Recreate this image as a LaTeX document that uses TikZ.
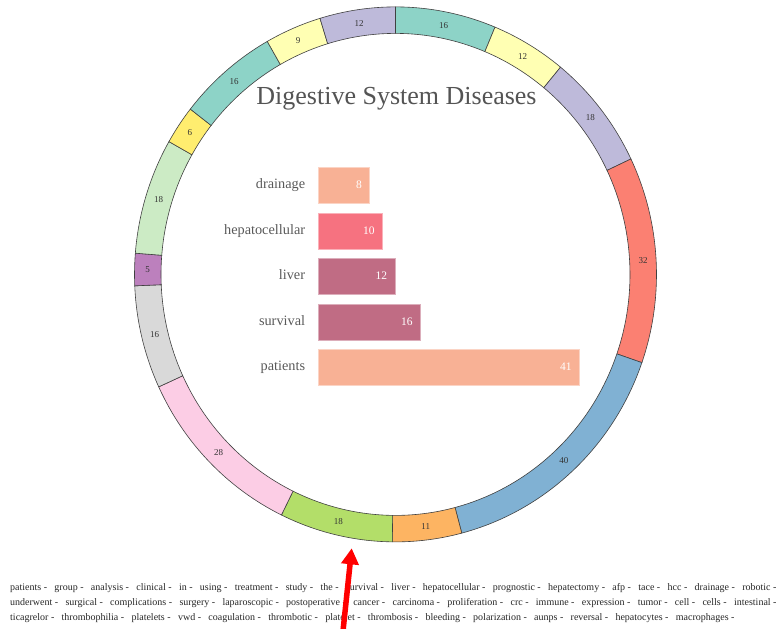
\documentclass[tikz,border=0pt]{standalone}
\usepackage{fontspec}
\setmainfont{Liberation Serif}
\usepackage{xcolor}
\usetikzlibrary{arrows.meta,positioning}

% ring colours
\definecolor{segTeal}{HTML}{8DD3C7}
\definecolor{segCream}{HTML}{FFFFB3}
\definecolor{segLav}{HTML}{BEBADA}
\definecolor{segSalmon}{HTML}{FB8072}
\definecolor{segBlue}{HTML}{80B1D3}
\definecolor{segOrange}{HTML}{FDB462}
\definecolor{segGreen}{HTML}{B3DE69}
\definecolor{segPink}{HTML}{FCCDE5}
\definecolor{segGrey}{HTML}{D9D9D9}
\definecolor{segPurple}{HTML}{BC80BD}
\definecolor{segMint}{HTML}{CCEBC5}
\definecolor{segYellow}{HTML}{FFED6F}
% bar colours
\definecolor{barPeach}{HTML}{F8B195}
\definecolor{barRose}{HTML}{F67280}
\definecolor{barPlum}{HTML}{C06C84}

\newcommand{\wsep}{\ -\hspace{7.35pt}}

\begin{document}
\begin{tikzpicture}[x=1pt, y=1pt, >=Stealth,
    seg/.style={draw=black!75, line width=0.6pt},
    seglabel/.style={font=\fontsize{9}{10}\selectfont, text=black!80, inner sep=0pt},
    barbox/.style={fill=#1, draw=#1!55!white, line width=0.8pt, minimum height=36pt, inner sep=0pt, anchor=west},
    barval/.style={font=\fontsize{11.5}{13}\selectfont, text=white, anchor=east, inner sep=0pt, text height=8pt, text depth=1pt},
    barname/.style={font=\fontsize{14.3}{16}\selectfont, text=black!65, inner sep=0pt, text height=10pt, text depth=3pt},
    wordline/.style={font=\fontsize{10}{12}\selectfont, text=black!85, anchor=base west, inner sep=0pt}]
    \useasboundingbox (0,0) rectangle (779,629);

    % Ring
    \coordinate (ring) at (395.5,354.6);
    \begin{scope}[shift={(ring)}]
    \foreach \a/\b/\v/\c in {0/16/16/segTeal, 16/28/12/segCream, 28/46/18/segLav, 46/78/32/segSalmon,
        78/118/40/segBlue, 118/129/11/segOrange, 129/147/18/segGreen, 147/175/28/segPink,
        175/191/16/segGrey, 191/196/5/segPurple, 196/214/18/segMint, 214/220/6/segYellow,
        220/236/16/segTeal, 236/245/9/segCream, 245/257/12/segLav} {
        \pgfmathsetmacro\sa{90-\a/257*360}
        \pgfmathsetmacro\ea{90-\b/257*360}
        \pgfmathsetmacro\ma{(\sa+\ea)/2}
        \draw[seg, fill=\c] (\sa:261pt and 267.5pt) arc[start angle=\sa, end angle=\ea, x radius=261pt, y radius=267.5pt]
            -- (\ea:234.5pt and 241pt) arc[start angle=\ea, end angle=\sa, x radius=234.5pt, y radius=241pt] -- cycle;
        \node[seglabel] at (\ma:248pt and 254pt) {\v};
    }
    \end{scope}

    % Title
    \node[font=\fontsize{26}{30}\selectfont, text=black!67] (title) at (396.5,530) {Digestive System Diseases};

    \def\barx{318.3}
    \def\barunit{6.36pt}
    % Bars
    \node[barbox=barPeach, minimum width={8*\barunit}] (drainage) at (\barx,443.7) {};
    \node[barbox=barRose, minimum width={10*\barunit}] (hepatocellular) at (\barx,398) {};
    \node[barbox=barPlum, minimum width={12*\barunit}] (liver) at (\barx,352.7) {};
    \node[barbox=barPlum, minimum width={16*\barunit}] (survival) at (\barx,307) {};
    \node[barbox=barPeach, minimum width={41*\barunit}] (patients) at (\barx,261.7) {};

    % Bar values
    \node[barval] at ([xshift=-8pt]drainage.east) {8};
    \node[barval] at ([xshift=-8pt]hepatocellular.east) {10};
    \node[barval] at ([xshift=-8pt]liver.east) {12};
    \node[barval] at ([xshift=-8pt]survival.east) {16};
    \node[barval] at ([xshift=-8pt]patients.east) {41};

    % Bar names
    \node[barname, left=13pt of drainage] {drainage};
    \node[barname, left=13pt of hepatocellular] {hepatocellular};
    \node[barname, left=13pt of liver] {liver};
    \node[barname, left=13pt of survival] {survival};
    \node[barname, left=13pt of patients] {patients};

    % Word list
    \node[wordline] (words1) at (10,38.3) {patients\wsep group\wsep analysis\wsep clinical\wsep in\wsep using\wsep treatment\wsep study\wsep the\wsep survival\wsep liver\wsep hepatocellular\wsep prognostic\wsep hepatectomy\wsep afp\wsep tace\wsep hcc\wsep drainage\wsep robotic\wsep};
    \node[wordline] (words2) at (10,23.5) {underwent\wsep surgical\wsep complications\wsep surgery\wsep laparoscopic\wsep postoperative\wsep cancer\wsep carcinoma\wsep proliferation\wsep crc\wsep immune\wsep expression\wsep tumor\wsep cell\wsep cells\wsep intestinal\wsep};
    \node[wordline] (words3) at (10,9) {ticagrelor\wsep thrombophilia\wsep platelets\wsep vwd\wsep coagulation\wsep thrombotic\wsep platelet\wsep thrombosis\wsep bleeding\wsep polarization\wsep aunps\wsep reversal\wsep hepatocytes\wsep macrophages\wsep};

    % Pointer
    \coordinate (pointer tail) at (343,-2);
    \coordinate (pointer tip) at (351.7,80.7);
    \draw[red, line width=5.5pt, -{Triangle[width=17pt, length=16pt]}] (pointer tail) -- (pointer tip);
\end{tikzpicture}
\end{document}
